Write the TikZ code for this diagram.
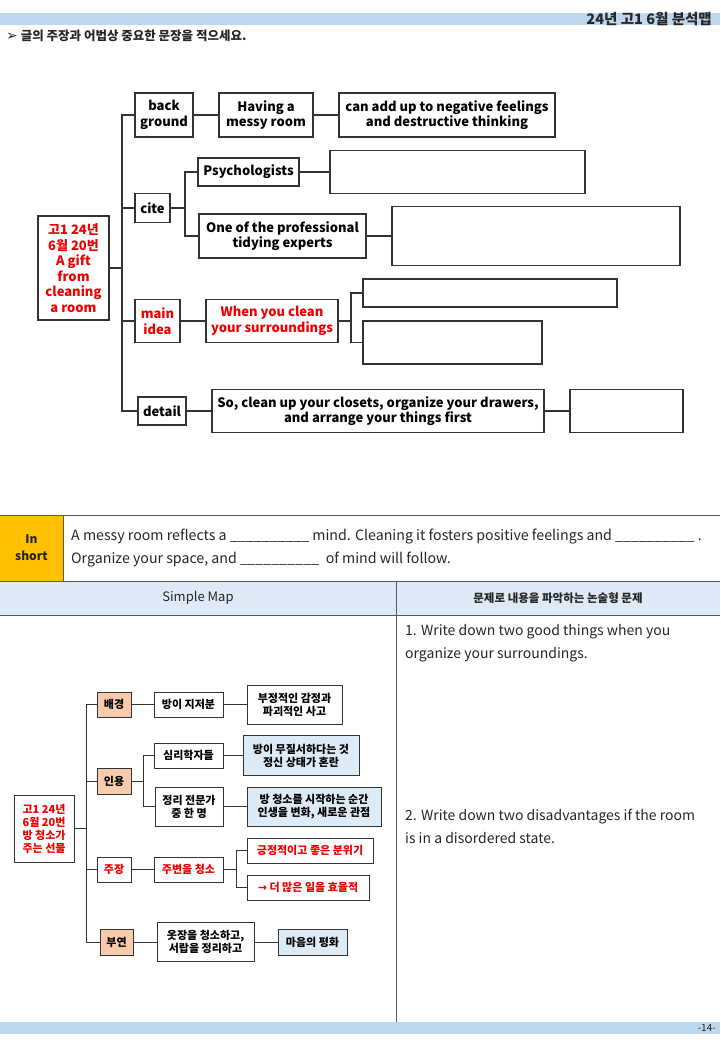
\documentclass[tikz,border=0pt]{standalone}
\usepackage{fontspec}
\setmainfont{Noto Sans CJK KR}
\newfontfamily\symfont{DejaVu Sans}
\usepackage{tikz}
\usetikzlibrary{positioning}

\definecolor{bandblue}{RGB}{189,215,238}
\definecolor{headblue}{RGB}{222,235,247}
\definecolor{shortorange}{RGB}{255,192,0}
\definecolor{peach}{RGB}{248,203,173}
\definecolor{ansblue}{RGB}{221,235,247}
\definecolor{mapred}{RGB}{236,0,0}

\tikzset{sz/.style 2 args = {minimum width=#1, minimum height=#2}}

\begin{document}
\begin{tikzpicture}[x=1pt, y=-1pt,
  box/.style     = {draw=black!80, line width=1.1pt, fill=white, align=center,
                    inner sep=0pt, font=\bfseries\fontsize{13}{15.5}\selectfont},
  sbox/.style    = {box, line width=1pt, font=\bfseries\fontsize{11}{13}\selectfont},
  hot/.style     = {text=mapred},
  tag/.style     = {sbox, fill=peach},
  ans/.style     = {sbox, fill=ansblue},
  link/.style    = {draw=black!80, line width=1.1pt},
  slink/.style   = {draw=black!80, line width=1pt},
  rule/.style    = {draw=black!65, line width=1pt},
  txt/.style     = {inner sep=0pt, text=black!85},
]
\useasboundingbox (0,0) rectangle (720,1040);

%% Page header
\fill[bandblue] (0,13) rectangle (720,25);
\node[txt, anchor=east, font=\bfseries\fontsize{14.5}{14}\selectfont] (title) at (712,19) {24년 고1 6월 분석맵};
\node[txt, anchor=west, font=\bfseries\fontsize{12.5}{12}\selectfont] (task) at (6,36)
      {{\symfont\fontsize{14}{12}\selectfont ➢} 글의 주장과 어법상 중요한 문장을 적으세요.};

%% Analysis map -- nodes
\node[box, hot, sz={71}{104}] (root)    at (73.5,268)  {고1 24년\\6월 20번\\A gift\\from\\cleaning\\a room};
\node[box, sz={58}{44}]       (bg)      at (164,115)   {back\\ground};
\node[box, sz={94}{44}]       (messy)   at (266,115)   {Having a\\messy room};
\node[box, sz={216}{44}]      (addup)   at (447,115)   {can add up to negative feelings\\and destructive thinking};
\node[box, sz={35}{29}]       (cite)    at (152.5,208) {cite};
\node[box, sz={101}{28}]      (psych)   at (248.5,172) {Psychologists};
\node[box, sz={255}{43}]      (psyans)  at (457.5,172) {};
\node[box, sz={167}{44}]      (prof)    at (282.5,236) {One of the professional\\tidying experts};
\node[box, sz={288}{59}]      (profans) at (536,236)   {};
\node[box, hot, sz={45}{43}]  (main)    at (157.5,321) {main\\idea};
\node[box, hot, sz={132}{43}] (clean)   at (272,321)   {When you clean\\your surroundings};
\node[box, sz={254}{28}]      (mainans) at (490,293)   {};
\node[box, sz={179}{43}]      (mainans2) at (452.5,342.5) {};
\node[box, sz={48}{28}]       (detail)  at (162,411)   {detail};
\node[box, sz={332}{43}]      (closets) at (378,411)   {So, clean up your closets, organize your drawers,\\and arrange your things first};
\node[box, sz={113}{43}]      (detans)  at (626.5,411) {};

%% Analysis map -- connectors
\coordinate (trunk)    at (122,0);
\coordinate (citefork) at (185,0);
\coordinate (mainfork) at (351,0);
\draw[link, line width=1.6pt] (root.east) -- (root.east -| trunk);
\draw[link] (root.east -| trunk) |- (bg.west);
\draw[link] (root.east -| trunk) |- (cite.west);
\draw[link] (root.east -| trunk) |- (main.west);
\draw[link] (root.east -| trunk) |- (detail.west);
\draw[link] (bg) -- (messy);
\draw[link] (messy) -- (addup);
\draw[link] (cite.east) -- (cite.east -| citefork) |- (psych.west);
\draw[link] (cite.east -| citefork) |- (prof.west);
\draw[link] (psych) -- (psyans);
\draw[link] (prof) -- (profans);
\draw[link] (main) -- (clean);
\draw[link] (clean.east) -- (clean.east -| mainfork) |- (mainans.west);
\draw[link] (clean.east -| mainfork) |- (mainans2.west);
\draw[link] (detail) -- (closets);
\draw[link] (closets) -- (detans);

%% In short row
\fill[shortorange] (0,515) rectangle (63,581);
\fill[headblue] (0,581) rectangle (720,615);
\draw[rule] (0,515) -- (720,515);
\draw[rule] (0,581) -- (720,581);
\draw[rule] (0,615) -- (720,615);
\draw[rule] (63,515) -- (63,581);
\draw[rule] (396,581) -- (396,1022);
\node[txt, align=center, font=\bfseries\fontsize{12}{17}\selectfont] (inshort) at (31.5,548) {In\\short};
\node[txt, anchor=west, align=left, font=\fontsize{14.2}{23}\selectfont] (summary) at (71,548)
      {A messy room reflects a \_\_\_\_\_\_\_\_\_\_ mind. Cleaning it fosters positive feelings and \_\_\_\_\_\_\_\_\_\_ .\\
       Organize your space, and \_\_\_\_\_\_\_\_\_\_\ \ of mind will follow.};
\node[txt, font=\fontsize{13}{13}\selectfont] (simple) at (198,598) {Simple Map};
\node[txt, font=\bfseries\fontsize{11.5}{13}\selectfont] (essay) at (558,598) {문제로 내용을 파악하는 논술형 문제};

%% Questions
\node[txt, anchor=west, align=left, font=\fontsize{14}{23}\selectfont] (q1) at (405,643.5)
      {1. Write down two good things when you\\organize your surroundings.};
\node[txt, anchor=west, align=left, font=\fontsize{14}{23}\selectfont] (q2) at (405,826.5)
      {2. Write down two disadvantages if the room\\is in a disordered state.};

%% Simple map -- nodes
\node[sbox, hot, sz={60}{67}]  (sroot)   at (44,828.5)  {고1 24년\\6월 20번\\방 청소가\\주는 선물};
\node[tag, sz={34}{25}]        (sbg)     at (114,704.5) {배경};
\node[sbox, sz={69}{25}]       (smessy)  at (188.5,704.5) {방이 지저분};
\node[sbox, sz={95}{39}]       (sneg)    at (294.5,704.5) {부정적인 감정과\\파괴적인 사고};
\node[tag, sz={34}{26}]        (scite)   at (114,781)   {인용};
\node[sbox, sz={69}{25}]       (spsych)  at (188.5,755.5) {심리학자들};
\node[ans, sz={116}{40}]       (spsyans) at (301,755.5) {방이 무질서하다는 것\\정신 상태가 혼란};
\node[sbox, sz={68}{39}]       (sprof)   at (189,806.5) {정리 전문가\\중 한 명};
\node[ans, sz={134}{39}]       (sprofans) at (314,806.5) {방 청소를 시작하는 순간\\인생을 변화, 새로운 관점};
\node[sbox, hot, sz={34}{25}]  (smain)   at (114,869.5) {주장};
\node[sbox, hot, sz={69}{25}]  (sclean)  at (188.5,869.5) {주변을 청소};
\node[sbox, hot, sz={126}{25}] (spos)    at (310,850.5) {긍정적이고 좋은 분위기};
\node[sbox, hot, sz={122}{25}] (seff)    at (308,887.5) {{\symfont →} 더 많은 일을 효율적};
\node[tag, sz={33}{26}]        (sdet)    at (116.5,942) {부연};
\node[sbox, sz={97}{39}]       (scloset) at (205.5,942) {옷장을 청소하고,\\서랍을 정리하고};
\node[ans, sz={69}{26}]        (speace)  at (312.5,942) {마음의 평화};

%% Simple map -- connectors
\coordinate (strunk)    at (86,0);
\coordinate (scitefork) at (143,0);
\coordinate (smainfork) at (236,0);
\draw[slink, line width=1.5pt] (sroot.east) -- (sroot.east -| strunk);
\draw[slink] (sroot.east -| strunk) |- (sbg.west);
\draw[slink] (sroot.east -| strunk) |- (scite.west);
\draw[slink] (sroot.east -| strunk) |- (smain.west);
\draw[slink] (sroot.east -| strunk) |- (sdet.west);
\draw[slink] (sbg) -- (smessy);
\draw[slink] (smessy) -- (sneg);
\draw[slink] (scite.east) -- (scite.east -| scitefork) |- (spsych.west);
\draw[slink] (scite.east -| scitefork) |- (sprof.west);
\draw[slink] (spsych) -- (spsyans);
\draw[slink] (sprof) -- (sprofans);
\draw[slink] (smain) -- (sclean);
\draw[slink] (sclean.east) -- (sclean.east -| smainfork) |- (spos.west);
\draw[slink] (sclean.east -| smainfork) |- (seff.west);
\draw[slink] (sdet) -- (scloset);
\draw[slink] (scloset) -- (speace);

%% Page footer
\fill[bandblue] (0,1022) rectangle (720,1034);
\node[txt, anchor=east, font=\fontsize{10}{10}\selectfont] (pageno) at (716,1028) {-14-};
\end{tikzpicture}
\end{document}
